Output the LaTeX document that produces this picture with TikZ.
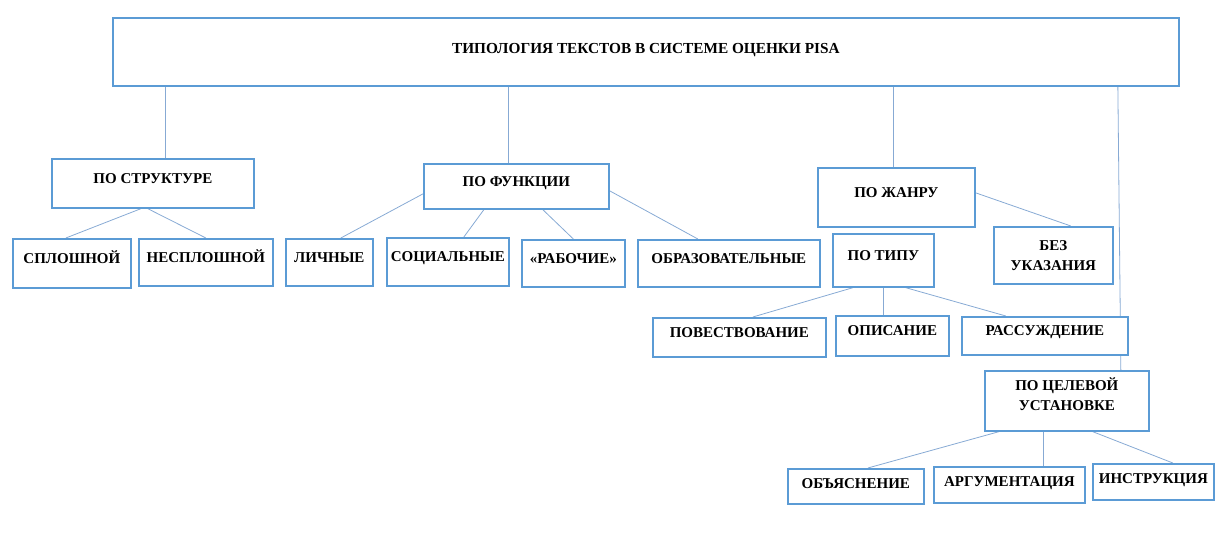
\documentclass[tikz,border=0pt]{standalone}
\usepackage{fontspec}
\setmainfont{Liberation Serif}
\usetikzlibrary{backgrounds}
\definecolor{boxblue}{RGB}{91,155,213}
\definecolor{linkblue}{RGB}{135,170,212}
\tikzset{
  boxbase/.style={draw=boxblue, line width=1.7pt, fill=white, inner sep=0pt,
    anchor=north west, font=\fontsize{15}{20}\selectfont\bfseries},
  box/.style={boxbase, text height=10pt, text depth=10pt},
  boxtwo/.style={boxbase, align=center},
  link/.style={draw=linkblue, line width=0.8pt}
}
\begin{document}
\begin{tikzpicture}[x=1pt,y=-1pt]
\useasboundingbox (0,0) rectangle (1219,535);
% top
\node [box, text depth=6pt, font=\fontsize{15.3}{20}\selectfont\bfseries, minimum width=1066pt, minimum height=68pt] (title) at (112,17) {ТИПОЛОГИЯ ТЕКСТОВ В СИСТЕМЕ ОЦЕНКИ PISA};
% second level
\node [box, minimum width=202pt, minimum height=49pt] (struct) at (51,158) {ПО СТРУКТУРЕ};
\node [box, minimum width=185pt, minimum height=45pt] (func) at (423,163) {ПО ФУНКЦИИ};
\node [box, minimum width=157pt, minimum height=59pt] (genre) at (817,167) {ПО ЖАНРУ};
\node [boxtwo, minimum width=119pt, minimum height=57pt] (none) at (993,226) {БЕЗ\\УКАЗАНИЯ};
% third level
\node [box, minimum width=118pt, minimum height=49pt] (solid) at (12,238) {СПЛОШНОЙ};
\node [box, minimum width=134pt, minimum height=47pt] (nonsolid) at (138,238) {НЕСПЛОШНОЙ};
\node [box, minimum width=87pt, minimum height=47pt] (personal) at (285,238) {ЛИЧНЫЕ};
\node [box, minimum width=122pt, minimum height=48pt] (social) at (386,237) {СОЦИАЛЬНЫЕ};
\node [box, minimum width=103pt, minimum height=47pt] (work) at (521,239) {«РАБОЧИЕ»};
\node [box, minimum width=182pt, minimum height=47pt] (edu) at (637,239) {ОБРАЗОВАТЕЛЬНЫЕ};
\node [box, minimum width=101pt, minimum height=53pt] (type) at (832,233) {ПО ТИПУ};
% by type
\node [box, minimum width=173pt, minimum height=39pt] (narr) at (652,317) {ПОВЕСТВОВАНИЕ};
\node [box, minimum width=113pt, minimum height=40pt] (descr) at (835,315) {ОПИСАНИЕ};
\node [box, minimum width=166pt, minimum height=38pt] (reason) at (961,316) {РАССУЖДЕНИЕ};
% by goal
\node [boxtwo, text depth=14pt, minimum width=164pt, minimum height=60pt] (goal) at (984,370) {ПО ЦЕЛЕВОЙ\\УСТАНОВКЕ};
\node [box, text depth=6pt, minimum width=136pt, minimum height=35pt] (expl) at (787,468) {ОБЪЯСНЕНИЕ};
\node [box, text depth=6pt, minimum width=151pt, minimum height=36pt] (arg) at (933,466) {АРГУМЕНТАЦИЯ};
\node [box, text depth=6pt, minimum width=121pt, minimum height=36pt] (instr) at (1092,463) {ИНСТРУКЦИЯ};
%Lines
\begin{scope}[on background layer]
\draw [link] ([xshift=13pt]struct.north) -- ([xshift=13pt]struct.north |- title.south);
\draw [link] ([xshift=-7.5pt]func.north) -- ([xshift=-7.5pt]func.north |- title.south);
\draw [link] ([xshift=-2.5pt]genre.north) -- ([xshift=-2.5pt]genre.north |- title.south);
\draw [link] ([xshift=472pt]title.south) -- ([xshift=54pt]goal.north);
\draw [link] ([xshift=-12pt]struct.south) -- ([xshift=-6pt]solid.north);
\draw [link] ([xshift=-5pt]struct.south) -- (nonsolid.north);
\draw [link] ([yshift=-7.5pt]func.west) -- ([xshift=11.5pt]personal.north);
\draw [link] ([xshift=-32.5pt]func.south) -- ([xshift=16pt]social.north);
\draw [link] ([xshift=26.5pt]func.south) -- (work.north);
\draw [link] ([yshift=-4.5pt]func.east) -- ([xshift=-31pt]edu.north);
\draw [link] ([yshift=4.5pt]genre.east) -- ([xshift=17.5pt]none.north);
\draw [link] ([xshift=-30.5pt]type.south) -- ([xshift=13.5pt]narr.north);
\draw [link] (type.south) -- (type.south |- descr.north);
\draw [link] ([xshift=22.5pt]type.south) -- ([xshift=-39pt]reason.north);
\draw [link] ([xshift=-68pt]goal.south) -- ([xshift=12pt]expl.north);
\draw [link] ([xshift=-23pt]goal.south) -- ([xshift=-23pt]goal.south |- arg.north);
\draw [link] ([xshift=26pt]goal.south) -- ([xshift=19.5pt]instr.north);
\end{scope}
\end{tikzpicture}
\end{document}
